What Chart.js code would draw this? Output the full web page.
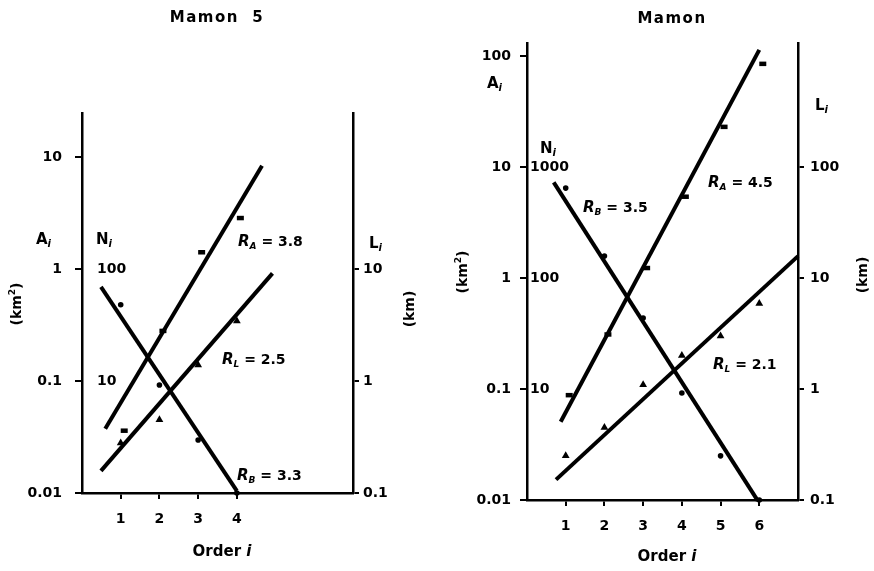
<!DOCTYPE html>
<html>
<head>
<meta charset="utf-8">
<script src="https://cdn.jsdelivr.net/npm/chart.js@4.4.0/dist/chart.umd.min.js"></script>
<style>
  body { margin: 0; background: #fff; }
  #wrap { position: relative; width: 874px; height: 571px; }
  canvas { position: absolute; top: 0; }
</style>
</head>
<body>
<div id="wrap">
  <canvas id="mamon5" width="437" height="571" style="left:0"></canvas>
  <canvas id="mamon" width="437" height="571" style="left:437px"></canvas>
</div>
<script>
// Mamon 5 basin, stream orders 1-4
const m5Orders = [1, 2, 3, 4];
const m5Area = [0.036, 0.28, 1.41, 2.85];     // A_i (km2)
const m5Count = [48, 9.2, 2.97, 1];           // N_i
const m5Length = [0.28, 0.45, 1.39, 3.43];    // L_i (km)

// Mamon basin, stream orders 1-6
const mOrders = [1, 2, 3, 4, 5, 6];
const mArea = [0.088, 0.31, 1.23, 5.4, 23, 85];
const mCount = [646, 158, 43.6, 9.2, 2.5, 1];
const mLength = [0.25, 0.45, 1.09, 2.0, 3.0, 5.9];

// regression ratios, in the order R_B, R_A, R_L
const m5Ratios = [3.3, 3.8, 2.5];
const mRatios = [3.5, 4.5, 2.1];

// extent of each fitted line (order) and its value at the middle
const m5FitFrom = [0.49, 0.6, 0.49];
const m5FitTo = [4.0, 4.65, 4.92];
const m5FitMid = [8.5, 0.56, 1.2];
const mFitFrom = [0.69, 0.87, 0.75];
const mFitTo = [5.96, 6.0, 7.0];
const mFitMid = [26.8, 2.4, 1.55];

// tick values
const m5AreaTicks = [0.01, 0.1, 1, 10];
const m5CountTicks = [10, 100];
const m5LengthTicks = [0.1, 1, 10];
const mAreaTicks = [0.01, 0.1, 1, 10, 100];
const mCountTicks = [10, 100, 1000];
const mLengthTicks = [0.1, 1, 10, 100];

const FONT = '"DejaVu Sans", sans-serif';
const tickFont = { family: '"DejaVu Sans", sans-serif', size: 14, weight: 'bold' };

// straight line on a log axis: value grows by `ratio` per order
function fitLine(from, to, mid, ratio, sign) {
  const half = (to - from) / 2;
  return [
    { x: from, y: mid * Math.pow(ratio, -sign * half) },
    { x: to, y: mid * Math.pow(ratio, sign * half) }
  ];
}

// text made of runs with their own font and vertical shift
function drawRich(ctx, item) {
  ctx.save();
  ctx.fillStyle = '#000';
  ctx.textBaseline = 'alphabetic';
  ctx.letterSpacing = item.ls || '0px';
  let w = 0;
  item.parts.forEach(p => { ctx.font = p[1] + ' ' + FONT; w += ctx.measureText(p[0]).width; });
  ctx.translate(item.x, item.y);
  if (item.rot) ctx.rotate(-Math.PI / 2);
  let x = item.center ? -w / 2 : 0;
  item.parts.forEach(p => {
    ctx.font = p[1] + ' ' + FONT;
    ctx.fillText(p[0], x, p[2] || 0);
    x += ctx.measureText(p[0]).width;
  });
  ctx.restore();
}

function ratioLabel(sub, r, x, y) {
  return { x, y, parts: [['R', 'italic bold 15px'], [sub, 'italic bold 9px', 3], [' = ' + r, 'bold 14px']] };
}

function buildPanel(canvasId, p) {
  const signs = [-1, 1, 1];
  const axes = ['yN', 'y', 'yL'];
  const fits = p.ratios.map((r, k) => ({
    data: fitLine(p.fitFrom[k], p.fitTo[k], p.fitMid[k], r, signs[k]),
    yAxisID: axes[k],
    showLine: true,
    borderColor: '#000',
    borderWidth: 4,
    pointRadius: 0,
    clip: false
  }));
  const pts = (vals, axis, style, radius, bw) => ({
    data: p.orders.map((o, i) => ({ x: o, y: vals[i] })),
    yAxisID: axis,
    pointStyle: style,
    pointRadius: radius,
    borderColor: '#000',
    backgroundColor: '#000',
    borderWidth: bw,
    clip: false
  });

  const texts = [
    { x: p.titleX, y: p.titleY, center: true, ls: '1.5px', parts: [[p.title, 'bold 15px']] },
    { x: p.aX, y: p.aY, parts: [['A', 'bold 15px'], ['i', 'italic bold 10px', 3]] },
    { x: p.nX, y: p.nY, parts: [['N', 'bold 15px'], ['i', 'italic bold 10px', 3]] },
    { x: p.lX, y: p.lY, parts: [['L', 'bold 15px'], ['i', 'italic bold 10px', 3]] },
    { x: p.km2X, y: p.km2Y, rot: true, center: true, parts: [['(km', 'bold 14px'], ['2', 'bold 9px', -6], [')', 'bold 14px']] },
    { x: p.kmX, y: p.kmY, rot: true, center: true, parts: [['(km)', 'bold 14px']] },
    { x: p.orderX, y: p.orderY, center: true, parts: [['Order ', 'bold 15px'], ['i', 'italic bold 15px']] },
    ratioLabel('B', p.ratios[0], p.rbX, p.rbY),
    ratioLabel('A', p.ratios[1], p.raX, p.raY),
    ratioLabel('L', p.ratios[2], p.rlX, p.rlY)
  ];

  const labelsPlugin = {
    id: 'figureText',
    afterDraw(chart) { texts.forEach(t => drawRich(chart.ctx, t)); }
  };

  const tickCb = v => String(v);
  const setTicks = vals => s => { s.ticks = vals.map(v => ({ value: v })); };

  new Chart(document.getElementById(canvasId), {
    type: 'scatter',
    data: {
      datasets: fits.concat([
        pts(p.area, 'y', 'dash', 7, 4.5),
        pts(p.count, 'yN', 'circle', 2.8, 0),
        pts(p.length, 'yL', 'triangle', 4.5, 0)
      ])
    },
    options: {
      responsive: false,
      animation: false,
      events: [],
      layout: { padding: { top: p.top, left: 0, right: 0, bottom: 0 } },
      plugins: { legend: { display: false }, tooltip: { enabled: false } },
      scales: {
        x: {
          type: 'linear', min: 0, max: 7, bounds: 'data',
          afterBuildTicks: setTicks(p.orders),
          afterFit: s => { s.height = p.bottomH; },
          border: { display: true, color: '#000', width: 2.5 },
          grid: { drawOnChartArea: false, tickLength: 6, color: '#000', lineWidth: 2 },
          ticks: { color: '#000', font: tickFont, padding: 12, autoSkip: false, maxRotation: 0, callback: tickCb }
        },
        y: {
          type: 'logarithmic', position: 'left', weight: 1,
          min: 0.01, max: p.areaMax, bounds: 'data',
          afterBuildTicks: setTicks(p.areaTicks),
          afterFit: s => { s.width = p.leftW; },
          border: { display: true, color: '#000', width: 2.5 },
          grid: { drawOnChartArea: false, tickLength: 7, color: '#000', lineWidth: 2 },
          ticks: { color: '#000', font: tickFont, padding: p.aPad, autoSkip: false, callback: tickCb }
        },
        yN: {
          type: 'logarithmic', position: 'left', weight: 0,
          min: 1, max: p.areaMax * 100, bounds: 'data',
          afterBuildTicks: setTicks(p.countTicks),
          afterFit: s => { s.width = 0; },
          border: { display: false },
          grid: { display: false, drawTicks: false },
          ticks: { color: '#000', font: tickFont, mirror: true, padding: p.nPad, autoSkip: false, callback: tickCb }
        },
        yL: {
          type: 'logarithmic', position: 'right',
          min: 0.1, max: p.areaMax * 10, bounds: 'data',
          afterBuildTicks: setTicks(p.lengthTicks),
          afterFit: s => { s.width = p.rightW; },
          border: { display: true, color: '#000', width: 2.5 },
          grid: { drawOnChartArea: false, tickLength: 6, color: '#000', lineWidth: 2 },
          ticks: { color: '#000', font: tickFont, padding: p.lPad, autoSkip: false, callback: tickCb }
        }
      }
    },
    plugins: [labelsPlugin]
  });
}

buildPanel('mamon5', {
  title: 'Mamon  5', orders: m5Orders, area: m5Area, count: m5Count, length: m5Length,
  ratios: m5Ratios, fitFrom: m5FitFrom, fitTo: m5FitTo, fitMid: m5FitMid,
  areaTicks: m5AreaTicks, countTicks: m5CountTicks, lengthTicks: m5LengthTicks,
  areaMax: 24.7, top: 113, leftW: 82, rightW: 84, bottomH: 78,
  aPad: 13, nPad: 15, lPad: 4,
  titleX: 217, titleY: 22, aX: 36, aY: 244, nX: 96, nY: 244, lX: 369, lY: 248,
  km2X: 21, km2Y: 304, kmX: 414, kmY: 309, orderX: 222, orderY: 556,
  raX: 238, raY: 246, rlX: 222, rlY: 364, rbX: 237, rbY: 480
});

buildPanel('mamon', {
  title: 'Mamon', orders: mOrders, area: mArea, count: mCount, length: mLength,
  ratios: mRatios, fitFrom: mFitFrom, fitTo: mFitTo, fitMid: mFitMid,
  areaTicks: mAreaTicks, countTicks: mCountTicks, lengthTicks: mLengthTicks,
  areaMax: 131, top: 43, leftW: 90, rightW: 76, bottomH: 71,
  aPad: 9, nPad: 3, lPad: 6,
  titleX: 235, titleY: 23, aX: 50, aY: 88, nX: 103, nY: 153, lX: 378, lY: 110,
  km2X: 30, km2Y: 272, kmX: 430, kmY: 275, orderX: 230, orderY: 561,
  raX: 271, raY: 187, rlX: 276, rlY: 369, rbX: 146, rbY: 212
});
</script>
</body>
</html>
